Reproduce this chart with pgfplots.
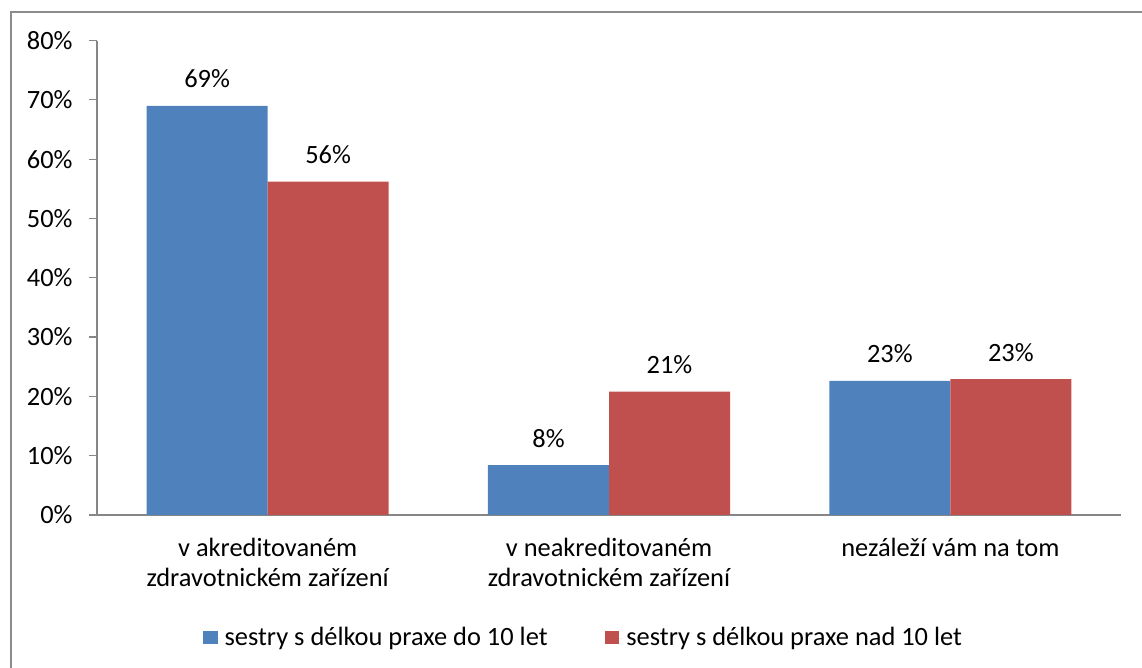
\documentclass[border=0pt]{standalone}
\usepackage{pgfplots}
\pgfplotsset{compat=1.18}
\usepackage{fontspec}
\setmainfont{Carlito}
\definecolor{barblue}{HTML}{4F81BD}
\definecolor{barred}{HTML}{C0504D}
\definecolor{axgray}{HTML}{868686}
\definecolor{framegray}{HTML}{8C8C8C}
\newcommand\cf{\fontsize{13.2}{15}\selectfont}
\begin{document}
\begin{tikzpicture}
\useasboundingbox (0,0) rectangle (571pt,334pt);
\draw[framegray, line width=1pt] (5.5pt,-2pt) -- (5.5pt,328pt) -- (575pt,328pt);
\begin{axis}[
  at={(48.5pt,76.5pt)}, anchor=south west,
  scale only axis, width=512pt, height=237.2pt,
  axis lines*=left,
  axis line style={axgray, line width=0.6pt},
  xmin=-0.5, xmax=2.5, ymin=0, ymax=80,
  ytick={0,10,...,80},
  yticklabels={0\%,10\%,20\%,30\%,40\%,50\%,60\%,70\%,80\%},
  xtick={0,1,2},
  xticklabels={{v akreditovaném\\zdravotnickém zařízení},{v neakreditovaném\\zdravotnickém zařízení},{nezáleží vám na tom}},
  minor xtick={-0.5,0.5,1.5,2.5},
  tick align=outside,
  major tick length=4pt, minor tick length=4pt,
  xtick style={draw=none},
  minor tick style={axgray, line width=0.6pt},
  ytick style={axgray, line width=0.6pt},
  ticklabel style={font=\cf, text=black},
  xticklabel style={align=center, anchor=north, inner sep=0pt, yshift=-7.5pt},
  yticklabel style={anchor=east, inner sep=0pt, xshift=-8pt},
  ybar=0pt, bar width=0.3545,
  nodes near coords,
  point meta=explicit symbolic,
  nodes near coords style={font=\cf, text=black, anchor=base, yshift=9pt},
  legend columns=2,
  legend style={at={(0.476,-0.26)}, anchor=center, draw=none, fill=none, font=\cf,
    /tikz/every even column/.append style={column sep=26.5pt},
    /tikz/every odd column/.append style={column sep=0pt}},
  legend image code/.code={\fill[#1] (0pt,-2.6pt) rectangle (7.4pt,3.7pt); \path (0pt,0pt) -- (8.9pt,0pt);},
]
\addplot[fill=barblue, draw=none] coordinates {(0,69.0) [69\%] (1,8.4) [8\%] (2,22.6) [23\%]};
\addplot[fill=barred, draw=none] coordinates {(0,56.2) [56\%] (1,20.8) [21\%] (2,22.9) [23\%]};
\legend{sestry s délkou praxe do 10 let, sestry s délkou praxe nad 10 let}
\end{axis}
\end{tikzpicture}
\end{document}
